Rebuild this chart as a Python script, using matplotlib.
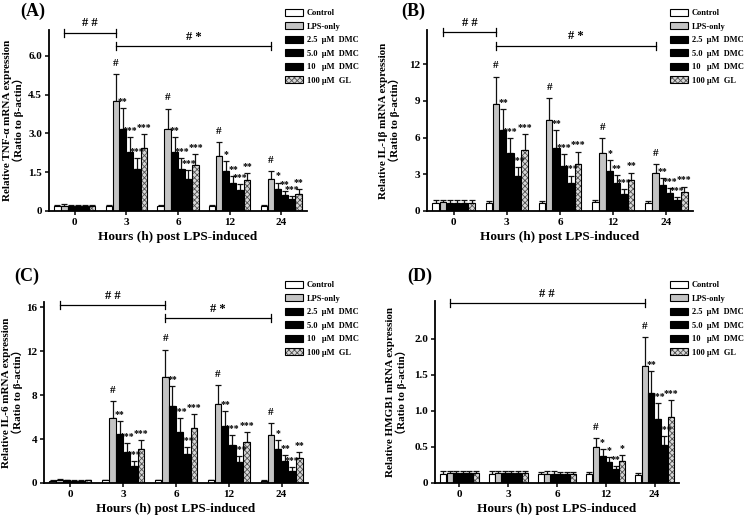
import matplotlib
matplotlib.use("Agg")
import matplotlib.pyplot as plt
from matplotlib.patches import Patch
import numpy as np

plt.rcParams['font.family'] = ['Liberation Serif', 'Noto Sans CJK SC', 'DejaVu Sans']
plt.rcParams['font.weight'] = 'bold'
plt.rcParams['hatch.linewidth'] = 0.6

# ---------------- data ----------------
groups = ['0', '3', '6', '12', '24']
series = ['Control', 'LPS-only', '2.5  μM  DMC', '5.0  μM  DMC', '10   μM  DMC', '100 μM  GL']

# TNF-alpha  (rows: series, cols: groups)
tnf_means = [[0.18, 0.20, 0.20, 0.20, 0.19],
             [0.21, 4.24, 3.16, 2.12, 1.22],
             [0.20, 3.18, 2.30, 1.53, 0.87],
             [0.20, 2.29, 1.63, 1.09, 0.61],
             [0.19, 1.63, 1.24, 0.80, 0.45],
             [0.20, 2.42, 1.77, 1.18, 0.66]]
tnf_errs = [[0.04, 0.04, 0.04, 0.04, 0.04],
            [0.05, 1.06, 0.80, 0.53, 0.31],
            [0.05, 0.80, 0.57, 0.40, 0.23],
            [0.05, 0.57, 0.41, 0.27, 0.15],
            [0.05, 0.41, 0.35, 0.23, 0.13],
            [0.05, 0.57, 0.44, 0.29, 0.18]]
tnf_sig = [['', '#', '#', '#', '#'],
           ['', '**', '**', '*', '*'],
           ['', '***', '***', '**', '**'],
           ['', '***', '***', '***', '***'],
           ['', '***', '***', '**', '**']]

# IL-1beta
il1_means = [[0.66, 0.66, 0.66, 0.71, 0.66],
             [0.71, 8.77, 7.46, 4.73, 3.09],
             [0.66, 6.64, 5.19, 3.31, 2.13],
             [0.66, 4.73, 3.69, 2.30, 1.48],
             [0.66, 2.90, 2.27, 1.42, 0.90],
             [0.66, 4.97, 3.88, 2.51, 1.56]]
il1_errs = [[0.20, 0.16, 0.18, 0.17, 0.16],
            [0.22, 2.21, 1.77, 1.20, 0.74],
            [0.22, 1.69, 1.45, 0.87, 0.55],
            [0.22, 1.23, 0.93, 0.62, 0.43],
            [0.20, 0.73, 0.63, 0.38, 0.27],
            [0.20, 1.31, 0.98, 0.63, 0.44]]
il1_sig = [['', '#', '#', '#', '#'],
           ['', '**', '**', '*', '**'],
           ['', '***', '***', '**', '***'],
           ['', '***', '***', '***', '***'],
           ['', '***', '***', '**', '***']]

# IL-6
il6_means = [[0.22, 0.24, 0.24, 0.24, 0.18],
             [0.28, 5.96, 9.67, 7.17, 4.35],
             [0.24, 4.44, 7.02, 5.20, 3.13],
             [0.22, 2.86, 4.68, 3.47, 2.04],
             [0.22, 1.58, 2.61, 1.91, 1.09],
             [0.24, 3.13, 4.98, 3.71, 2.25]]
il6_errs = [[0.05, 0.05, 0.05, 0.05, 0.05],
            [0.06, 1.52, 2.49, 1.77, 1.09],
            [0.05, 1.21, 1.79, 1.37, 0.79],
            [0.05, 0.76, 1.22, 0.88, 0.54],
            [0.05, 0.42, 0.67, 0.55, 0.34],
            [0.05, 0.79, 1.28, 0.91, 0.58]]
il6_sig = [['', '#', '#', '#', '#'],
           ['', '**', '**', '**', '*'],
           ['', '***', '***', '***', '**'],
           ['', '***', '***', '***', '***'],
           ['', '***', '***', '***', '**']]

# HMGB1
hmg_means = [[0.130, 0.130, 0.125, 0.130, 0.115],
             [0.140, 0.140, 0.130, 0.500, 1.620],
             [0.135, 0.135, 0.125, 0.380, 1.240],
             [0.135, 0.135, 0.125, 0.290, 0.885],
             [0.135, 0.135, 0.125, 0.190, 0.520],
             [0.135, 0.135, 0.125, 0.310, 0.920]]
hmg_errs = [[0.030, 0.030, 0.030, 0.025, 0.025],
            [0.030, 0.030, 0.035, 0.120, 0.400],
            [0.035, 0.035, 0.035, 0.090, 0.310],
            [0.035, 0.035, 0.030, 0.070, 0.225],
            [0.035, 0.035, 0.030, 0.045, 0.135],
            [0.030, 0.030, 0.030, 0.080, 0.230]]
hmg_sig = [['', '', '', '#', '#'],
           ['', '', '', '*', '**'],
           ['', '', '', '*', '***'],
           ['', '', '', '**', '***'],
           ['', '', '', '*', '***']]

# ---------------- styling ----------------
W, H = 744, 524
fig = plt.figure(figsize=(W / 100, H / 100), dpi=100)

face = ['white', '#c4c4c4', 'black', 'black', 'black', '#d8d8d8']
pitch = 0.135
bw = 0.123


def px_rect(l, r, t, b):
    return [l / W, 1 - b / H, (r - l) / W, (b - t) / H]


def draw_panel(rect, means, errs, sig, ylim, yticks, yticklabels, ylabel,
               brackets, letter, letter_xy, legend_xy, ylab_px):
    ax = fig.add_axes(rect)
    x = np.arange(len(groups))
    for i in range(len(series)):
        xs = x + (i - 2.5) * pitch
        m = np.array(means[i])
        e = np.array(errs[i])
        ax.errorbar(xs, m, yerr=[np.zeros_like(e), e], fmt='none', ecolor='#111111',
                    elinewidth=0.9, capsize=2.0, capthick=0.9, zorder=1)
        if i == 5:
            ax.bar(xs, m, width=bw, color='#d8d8d8', edgecolor='#505050',
                   hatch='xxxxxx', linewidth=0, zorder=2)
            ax.bar(xs, m, width=bw, fill=False, edgecolor='black', linewidth=0.8, zorder=3)
        else:
            ax.bar(xs, m, width=bw, color=face[i], edgecolor='black', linewidth=0.8, zorder=2)
        if i >= 1:
            for j in range(len(groups)):
                s = sig[i - 1][j]
                if s:
                    off = 4.5 if s == '#' else 1.5
                    fs = 8 if s == '#' else 7
                    ax.annotate(s, xy=(xs[j], m[j] + e[j]), xytext=(0, off),
                                textcoords='offset points', ha='center', va='bottom',
                                fontsize=fs, fontweight='bold', zorder=5)
    ax.set_xlim(-0.5, len(groups) - 0.5)
    ax.set_ylim(*ylim)
    ax.set_yticks(yticks)
    ax.set_yticklabels(yticklabels)
    ax.set_xticks(x)
    ax.set_xticklabels(groups)
    for sp in ['top', 'right']:
        ax.spines[sp].set_visible(False)
    for sp in ['left', 'bottom']:
        ax.spines[sp].set_linewidth(1.3)
    ax.tick_params(axis='both', labelsize=8, width=1.1, length=3, pad=2)
    for lab in ax.get_xticklabels() + ax.get_yticklabels():
        lab.set_fontweight('bold')
    ax.set_xlabel('Hours (h) post LPS-induced', fontsize=9.5, fontweight='bold', labelpad=3)
    ax.set_ylabel(ylabel, fontsize=8, fontweight='bold', linespacing=1.0)
    axw = rect[2] * W
    ax.yaxis.set_label_coords(ylab_px / axw, 0.5)

    # significance brackets (between LPS-only bars)
    lps_off = (1 - 2.5) * pitch
    span = (ylim[1] - ylim[0]) * 0.022
    for g1, g2, yb, txt in brackets:
        x1, x2 = g1 + lps_off, g2 + lps_off
        ax.plot([x1, x2], [yb, yb], color='black', lw=0.9, clip_on=False, zorder=6)
        for xx in (x1, x2):
            ax.plot([xx, xx], [yb - span, yb + span], color='black', lw=0.9,
                    clip_on=False, zorder=6)
        ax.annotate(txt, xy=((x1 + x2) / 2, yb), xytext=(0, 2.5), textcoords='offset points',
                    ha='center', va='bottom', fontsize=9, fontweight='bold',
                    annotation_clip=False)

    fig.text(letter_xy[0] / W, 1 - letter_xy[1] / H, letter, fontsize=13,
             fontweight='bold', ha='center', va='center')

    handles = []
    for i in range(len(series)):
        if i == 5:
            handles.append((Patch(facecolor='#d8d8d8', edgecolor='#505050', hatch='xxxxxx',
                                  linewidth=0),
                            Patch(fill=False, edgecolor='black', linewidth=0.8)))
        else:
            handles.append(Patch(facecolor=face[i], edgecolor='black', linewidth=0.8))
    ax.legend(handles, series, loc='upper left',
              bbox_to_anchor=(legend_xy[0] / W, 1 - legend_xy[1] / H),
              bbox_transform=fig.transFigure, frameon=False,
              borderpad=0, borderaxespad=0, handlelength=2.2, handleheight=0.9,
              labelspacing=0.62, handletextpad=0.45,
              prop={'weight': 'bold', 'size': 6})
    return ax


draw_panel(px_rect(49, 307, 30, 211), tnf_means, tnf_errs, tnf_sig,
           (0, 7.0), [0, 1.5, 3.0, 4.5, 6.0], ['0', '1.5', '3.0', '4.5', '6.0'],
           'Relative TNF-α mRNA expression\n（Ratio to β-actin）',
           [(0, 1, 6.9, '# #'), (1, 4, 6.38, '# *')], '(A)', (33, 11), (285, 9), -25)

draw_panel(px_rect(427, 693, 30, 211), il1_means, il1_errs, il1_sig,
           (0, 14.8), [0, 3, 6, 9, 12], ['0', '3', '6', '9', '12'],
           'Relative IL-1β mRNA expression\n（Ratio to β-actin）',
           [(0, 1, 14.6, '# #'), (1, 4, 13.5, '# *')], '(B)', (413, 11), (670, 9), -27)

draw_panel(px_rect(44, 308, 302, 483), il6_means, il6_errs, il6_sig,
           (0, 16.5), [0, 4, 8, 12, 16], ['0', '4', '8', '12', '16'],
           'Relative IL-6 mRNA expression\n（Ratio to β-actin）',
           [(0, 2, 16.2, '# #'), (2, 4, 15.0, '# *')], '(C)', (27, 276), (285, 281), -21)

draw_panel(px_rect(435, 679, 301, 483), hmg_means, hmg_errs, hmg_sig,
           (0, 2.52), [0, 0.5, 1.0, 1.5, 2.0], ['0', '0.5', '1.0', '1.5', '2.0'],
           'Relative HMGB1 mRNA expression\n（Ratio to β-actin）',
           [(0, 4, 2.49, '# #')], '(D)', (420, 276), (670, 281), -28)

fig.savefig('out.png', dpi=100)
